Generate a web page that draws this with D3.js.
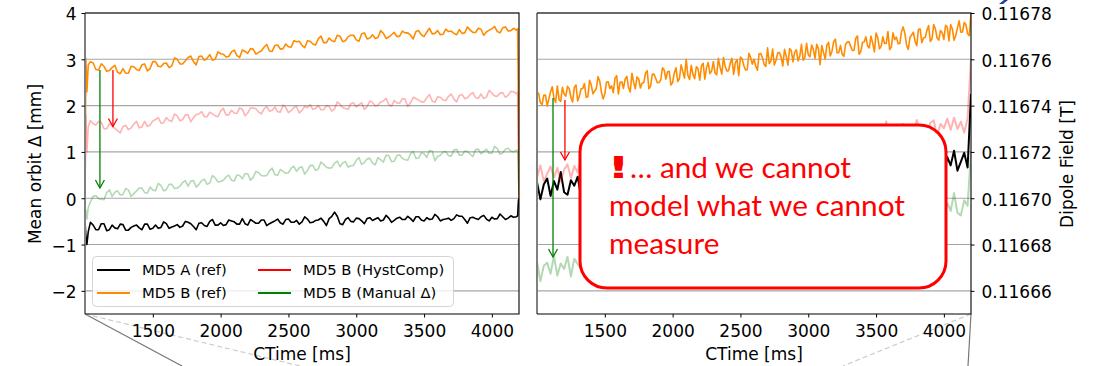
<!DOCTYPE html>
<html>
<head>
<meta charset="utf-8">
<script src="https://cdn.jsdelivr.net/npm/d3@7"></script>
<style>
body { margin: 0; background: #fff; }
svg { display: block; font-family: "DejaVu Sans", sans-serif; }
</style>
</head>
<body>
<svg id="chart" width="1094" height="366"></svg>
<script>
////////// DATA //////////

// left panel: mean orbit delta [mm]
// main samples every 40 ms, plus the in-between samples (1060, 1100, ...)
var leftTimes = [1000, 1006, 1014, 1024].concat(d3.range(1040, 4200, 40), [4180, 4190, 4196, 4200]);
var leftTimesHalf = d3.range(1060, 4160, 40);

var orbitA_ref = [-0.5, -0.8, -1.0, -0.72,
  -0.52,-0.68,-0.55,-0.70,-0.58,-0.66,-0.57,-0.69,-0.60,-0.64,
  -0.56,-0.67,-0.58,-0.63,-0.55,-0.62,-0.57,-0.60,-0.52,-0.61,
  -0.54,-0.59,-0.50,-0.58,-0.53,-0.57,-0.49,-0.56,-0.44,-0.58,
  -0.50,-0.54,-0.47,-0.55,-0.49,-0.53,-0.46,-0.52,-0.48,-0.51,
  -0.45,-0.52,-0.47,-0.50,-0.44,-0.30,-0.55,-0.46,-0.50,-0.43,
  -0.49,-0.44,-0.48,-0.42,-0.47,-0.43,-0.48,-0.41,-0.46,-0.44,
  -0.40,-0.47,-0.42,-0.45,-0.40,-0.46,-0.43,-0.44,-0.39,-0.46,
  -0.42,-0.44,-0.40,-0.45,-0.41,-0.44,-0.40,-0.43,-0.41,
  -0.40, -0.38, -0.05, 0.0];
var orbitA_refHalf = [
  -0.58,-0.68,-0.55,-0.68,-0.64,-0.56,-0.69,-0.63,-0.58,-0.68,
  -0.56,-0.65,-0.65,-0.51,-0.65,-0.60,-0.63,-0.50,-0.55,-0.68,
  -0.53,-0.61,-0.46,-0.58,-0.59,-0.47,-0.51,-0.56,-0.55,-0.46,
  -0.54,-0.47,-0.59,-0.52,-0.45,-0.56,-0.45,-0.52,-0.56,-0.40,
  -0.53,-0.48,-0.43,-0.59,-0.39,-0.39,-0.57,-0.42,-0.51,-0.44,
  -0.55,-0.42,-0.45,-0.49,-0.37,-0.52,-0.43,-0.46,-0.39,-0.50,
  -0.40,-0.49,-0.46,-0.35,-0.49,-0.45,-0.48,-0.36,-0.39,-0.54,
  -0.41,-0.46,-0.37,-0.49,-0.45,-0.34,-0.46,-0.38];

var orbitB_ref = [-0.3, 3.02, 2.3, 2.88,
  2.95,2.78,2.90,2.74,2.82,2.72,2.80,2.70,2.84,2.76,
  2.90,2.80,2.95,2.84,2.92,2.86,3.00,2.90,3.04,2.95,
  3.06,2.98,3.10,3.00,3.12,3.05,3.16,3.08,3.20,3.13,
  3.22,3.15,3.26,3.18,3.30,3.22,3.33,3.26,3.38,3.30,
  3.40,3.33,3.44,3.36,3.46,3.38,3.50,3.40,3.52,3.42,
  3.55,3.44,3.53,3.47,3.56,3.48,3.58,3.50,3.57,3.52,
  3.60,3.53,3.59,3.55,3.62,3.54,3.60,3.56,3.64,3.57,
  3.63,3.58,3.65,3.59,3.66,3.60,3.68,3.61,3.67,
  3.63, 3.66, 2.0, 0.0];
var orbitB_refHalf = [
  2.92,2.77,2.85,2.76,2.87,2.69,2.70,2.85,2.78,2.88,
  2.75,2.95,2.85,2.91,2.82,3.03,2.90,2.97,3.07,2.88,
  3.07,3.02,2.98,3.16,3.11,3.06,3.20,3.04,3.17,3.23,
  3.11,3.18,3.32,3.17,3.31,3.23,3.27,3.40,3.39,3.25,
  3.39,3.31,3.50,3.36,3.40,3.52,3.38,3.49,3.52,3.39,
  3.57,3.46,3.45,3.62,3.45,3.53,3.49,3.61,3.57,3.44,
  3.62,3.49,3.67,3.56,3.53,3.65,3.61,3.53,3.56,3.70,
  3.58,3.67,3.52,3.63,3.71,3.57,3.70,3.62];

var orbitB_hyst = [0.0, 1.8, 1.0, 1.55,
  1.68,1.58,1.64,1.50,1.56,1.46,1.55,1.48,1.60,1.52,
  1.66,1.58,1.70,1.62,1.74,1.66,1.78,1.70,1.80,1.74,
  1.82,1.76,1.86,1.78,1.88,1.80,1.90,1.83,1.92,1.84,
  1.95,1.86,1.93,1.88,1.97,1.86,1.96,1.89,1.98,1.90,
  1.96,1.92,2.00,1.91,1.98,1.93,2.03,1.94,2.04,1.97,
  2.06,1.98,2.07,2.01,2.10,2.02,2.11,2.05,2.14,2.06,
  2.15,2.08,2.17,2.10,2.19,2.12,2.20,2.14,2.22,2.15,
  2.24,2.17,2.25,2.19,2.27,2.20,2.28,2.22,2.30,
  2.26, 2.29, 1.0, 0.05];
var orbitB_hystHalf = [
  1.61,1.66,1.50,1.61,1.51,1.41,1.57,1.52,1.66,1.54,
  1.55,1.67,1.74,1.63,1.68,1.82,1.67,1.80,1.65,1.81,
  1.87,1.76,1.82,1.76,1.94,1.80,1.84,1.95,1.78,1.95,
  1.93,1.82,1.98,1.90,1.87,2.01,1.85,1.96,1.84,1.98,
  2.02,1.94,1.91,2.00,1.88,2.08,1.96,1.92,2.06,2.02,
  1.92,2.10,1.99,2.08,2.16,1.99,2.06,2.15,1.98,2.18,
  2.12,2.08,2.24,2.07,2.18,2.11,2.25,2.08,2.24,2.17,
  2.28,2.16,2.15,2.33,2.21,2.27,2.18,2.31];

var orbitB_manual = [-0.4, -0.25, -0.45, -0.2,
  -0.08,0.06,-0.02,0.12,0.04,0.16,0.08,0.18,0.10,0.22,
  0.12,0.24,0.16,0.27,0.19,0.30,0.22,0.34,0.26,0.38,
  0.30,0.41,0.33,0.44,0.36,0.46,0.39,0.50,0.42,0.53,
  0.45,0.55,0.48,0.59,0.51,0.62,0.54,0.65,0.58,0.68,
  0.60,0.71,0.63,0.73,0.65,0.76,0.68,0.79,0.70,0.82,
  0.73,0.85,0.76,0.88,0.78,0.92,0.80,0.94,0.83,0.96,
  0.86,0.98,0.88,1.02,0.90,1.00,0.92,1.04,0.93,1.02,
  0.95,1.05,0.96,1.06,0.97,1.07,0.98,1.08,1.00,
  1.04, 1.02, 0.4, 0.2];
var orbitB_manualHalf = [
  0.04,-0.01,-0.03,0.18,0.13,0.07,0.21,0.04,0.16,0.22,
  0.11,0.18,0.32,0.16,0.30,0.21,0.26,0.38,0.37,0.24,
  0.38,0.30,0.49,0.35,0.39,0.50,0.37,0.49,0.53,0.39,
  0.58,0.49,0.49,0.65,0.49,0.58,0.55,0.69,0.66,0.52,
  0.71,0.60,0.78,0.67,0.66,0.80,0.76,0.67,0.71,0.88,
  0.77,0.86,0.72,0.83,0.93,0.79,0.92,0.86,0.82,1.01,
  0.87,0.96,1.03,0.81,0.93,1.01,0.91,1.06,0.93,1.01,
  0.90,1.06,1.01,0.97,1.12,0.95,1.06,1.02];

// right panel: dipole field, stored in µT above 0.11670 T
var FIELD_BASE = 0.11670;
var rightTimes = d3.range(1000, 4200, 25).concat([4200]);
var rightTimesHalf = d3.range(1012.5, 4200, 25);

var fieldB_ref = [
  46,41.3,44.5,39.8,46,43.3,48.5,41.8,45,48.3,
  43.5,47.8,42,47.3,49.5,43.8,49,46.3,52.5,45.8,
  45,50.3,48.5,51.8,45,50.3,51.5,47.8,54,47.3,
  51.5,49.8,54,47.3,53.5,51.8,50,56.3,51.5,54.8,
  50,56.3,51.5,54.8,60,51.3,53.5,56.8,51,58.3,
  56.5,53.8,59,53.3,56.5,60.8,55,58.3,53.5,59.8,
  61,57.3,55.5,60.8,60,55.3,62.5,57.8,65,59.3,
  57.5,62.8,61,64.3,57.5,63.8,63,59.3,66.5,60.8,
  62,66.2,60.4,64.6,65.9,60.1,67.3,63.5,68.7,62.9,
  62.2,66.4,67.6,63.8,69,62.2,67.4,69.7,64.9,67.1,
  71.3,64.5,69.7,66.9,64.2,71.4,69.6,66.8,74,66.2,
  69.4,71.7,65.9,73.1,69.3,72.5,67.7,75,69.2,72.4,
  68.6,73.8,75,68.2,73.5,71.7,75.9,71.1, 80];
var fieldB_refHalf = [
  45.1,40.4,44.6,42.9,48.1,41.4,42.6,47.9,44.1,47.4,
  41.6,48.9,44.1,47.4,43.6,50.9,45.1,47.4,50.6,42.9,
  50.1,47.4,45.6,52.9,50.1,47.4,52.6,45.9,50.1,52.4,
  47.6,49.9,55.1,48.4,53.6,49.9,51.1,55.4,54.6,48.9,
  54.1,50.4,57.6,51.9,53.1,57.4,51.6,55.9,57.1,51.4,
  58.6,54.9,54.1,60.4,53.6,56.9,55.1,60.4,58.6,52.9,
  60.1,55.4,62.6,57.9,57.1,62.4,60.6,56.9,58.1,64.4,
  59.6,62.9,57.1,61.4,64.6,58.9,64.1,61.4,59.6,66.9,
  61.1,64.3,66.5,57.7,63.0,66.2,61.4,67.6,62.8,66.0,
  61.3,67.5,65.7,63.9,70.1,63.3,67.5,65.8,70.0,63.2,
  69.4,65.6,66.8,72.0,65.3,68.5,66.7,71.9,71.1,64.3,
  70.5,67.8,73.0,67.2,69.4,74.6,68.8,73.1,68.3,71.5,
  74.7,67.9,73.1,70.3,76.6,71.8,75.0,70.2];

var fieldB_hyst = [
  9.0,14.2,7.4,10.5,13.7,8.9,13.1,7.2,12.4,14.6,
  8.8,13.9,11.1,17.3,10.5,9.7,14.8,13,16.2,9.4,
  14.5,15.7,11.9,18.1,11.2,15.4,13.6,17.8,11,17.1,
  15.3,13.5,19.7,14.8,18,13.2,19.4,14.5,17.7,22.9,
  14.1,16.3,19.4,13.6,20.8,19,16.1,21.3,15.5,18.7,
  22.9,17,20.2,15.4,21.6,22.7,18.9,17.1,22.3,21.4,
  16.6,23.8,19,26.2,20.3,18.5,23.7,21.9,25,18.2,
  24.4,23.6,19.7,26.9,21.1,22.3,26.5,20.6,24.8,26,
  20.2,27.3,23.5,28.7,22.9,22,26.2,27.4,23.6,28.8,
  21.9,27.1,29.3,24.5,26.6,30.8,24,29.2,26.3,23.5,
  30.7,28.9,26.1,33.2,25.4,28.6,30.8,24.9,32.1,28.3,
  31.5,26.6,33.8,28,31.2,27.4,32.5,33.7,26.9,32.1,
  30.2,34.4,29.6,34.8,29.9,33.1,28.3,34.5, 60];

var fieldA_ref = [
  6.9,-0.5,5.9,8.5,1.0,7.4,3.7,11.3,2.6,1.5,
  7.8,5.4,9.3,0.6,7.0,8.3,3.3,10.9,2.3,7.4,
  5.0,10.1,1.4,9.0,6.6,4.2,11.7,5.6,9.4,3.3,
  10.9,4.7,8.6,14.9,3.8,6.4,10.1,2.7,11.6,9.2,
  5.5,11.9,4.5,8.3,13.4,6.0,9.8,3.6,11.2,12.6,
  7.7,5.3,11.6,10.5,4.3,13.2,6.9,15.8,8.4,6.0,
  12.3,9.9,13.8,5.1,12.7,11.6,6.6,15.4,8.0,9.4,
  14.5,7.1,12.2,13.5,6.1,15.0,10.0,16.3,8.9,7.8,
  12.9,14.2,9.3,15.7,7.0,13.4,15.9,9.7,12.3,17.4,
  8.8,15.1,11.5,7.8,16.7,14.3,10.5,19.4,9.5,13.3,
  15.9,8.5,17.4,12.5,16.3,10.2,18.9,11.5,15.4,10.5,
  16.8,18.2,9.5,15.9,13.5,18.6,12.3,18.7,12.5,16.4,
  10.2,17.8,14.2,20.5,11.9,15.7,19.6,13.3, 45];

var fieldB_manual = [
  -27.3,-35.8,-29.3,-27.8,-32.6,-24.9,-33.4,-28.2,-30.5,-25.3,
  -33.8,-26.1,-28.4,-30.7,-22.9,-29.0,-25.0,-31.0,-23.3,-29.3,
  -25.4,-18.9,-29.9,-27.2,-23.2,-30.5,-21.5,-23.8,-27.4,-20.9,
  -28.2,-24.2,-19.0,-26.3,-22.3,-28.3,-20.6,-19.1,-23.9,-26.2,
  -19.7,-20.8,-26.8,-17.8,-23.9,-14.9,-22.2,-24.4,-18.0,-20.3,
  -16.3,-24.8,-17.1,-18.1,-22.9,-14.0,-21.2,-19.8,-14.5,-21.8,
  -16.6,-15.1,-22.4,-13.4,-18.2,-11.8,-19.0,-20.1,-14.8,-13.4,
  -18.2,-11.7,-20.2,-13.7,-11.0,-17.1,-14.4,-9.1,-17.6,-11.2,
  -14.7,-18.3,-9.3,-11.6,-15.1,-6.1,-15.9,-11.9,-9.2,-16.5,
  -7.5,-12.3,-8.4,-14.4,-5.4,-12.7,-8.7,-13.5,-7.0,-5.6,
  -14.1,-7.6,-9.9,-4.7,-10.7,-4.2,-10.3,-6.3,-12.3,-4.6,
  -8.1,-1.7,-10.2,-6.3,-2.3,-8.3,-3.1,-10.4,-3.9,-1.2,
  -8.5,-2.0,-5.5,2.2,-6.3,-7.4,-0.9,-3.2, 20];

// axes
var timeDomain = [1000, 4200];
var timeTicks = [1500, 2000, 2500, 3000, 3500, 4000];
var orbitDomain = [-2.5, 4];
var orbitTicks = [-2, -1, 0, 1, 2, 3, 4];
var fieldDomain = [-50, 80];            // µT above FIELD_BASE
var fieldTicks = [0.11666, 0.11668, 0.11670, 0.11672, 0.11674, 0.11676, 0.11678];

// legend
var legendLabels = ["MD5 A (ref)", "MD5 B (ref)", "MD5 B (HystComp)", "MD5 B (Manual \u0394)"];
var legendColors = ["#000000", "#ff8c00", "#ff0000", "#008000"];

// arrows: [time, from, to]
var leftArrowGreen = [1110, 2.77, 0.22], leftArrowRed = [1206, 2.77, 1.55];
var rightArrowGreen = [1118, 43.3, -25.4], rightArrowRed = [1206, 42.4, 16.5];

var noteLines = ["\u2026 and we cannot", "model what we cannot", "measure"];

////////// LAYOUT //////////
var svg = d3.select("#chart");
var top_ = 13, bottom_ = 314;
var leftRange = [85, 519], rightRange = [537, 971];

var xL = d3.scaleLinear().domain(timeDomain).range(leftRange);
var xR = d3.scaleLinear().domain(timeDomain).range(rightRange);
var yL = d3.scaleLinear().domain(orbitDomain).range([bottom_, top_]);
var yR = d3.scaleLinear().domain(fieldDomain).range([bottom_, top_]);
var yRT = d3.scaleLinear()
    .domain([FIELD_BASE + fieldDomain[0] * 1e-6, FIELD_BASE + fieldDomain[1] * 1e-6])
    .range([bottom_, top_]);

// pair times with values, merging the in-between samples if given
function pts(t, v, th, vh) {
    var p = t.map(function(d, i) { return [d, v[i]]; });
    if (th) p = p.concat(th.map(function(d, i) { return [d, vh[i]]; }));
    return p.sort(function(a, b) { return a[0] - b[0]; });
}

var defs = svg.append("defs");
[["clipL", leftRange], ["clipR", rightRange]].forEach(function(c) {
    defs.append("clipPath").attr("id", c[0]).append("rect")
        .attr("x", c[1][0]).attr("y", top_)
        .attr("width", c[1][1] - c[1][0]).attr("height", bottom_ - top_);
});

// inset connector lines below the panels
var conn = svg.append("g").attr("fill", "none");
conn.append("line").attr("x1", 85).attr("y1", bottom_).attr("x2", 182).attr("y2", 366)
    .attr("stroke", "#777").attr("stroke-width", 1.2);
conn.append("line").attr("x1", 85).attr("y1", bottom_).attr("x2", 300).attr("y2", 366)
    .attr("stroke", "#ccc").attr("stroke-width", 1.2).attr("stroke-dasharray", "5,3");
conn.append("line").attr("x1", 971).attr("y1", bottom_).attr("x2", 968).attr("y2", 366)
    .attr("stroke", "#777").attr("stroke-width", 1.2);
conn.append("line").attr("x1", 971).attr("y1", bottom_).attr("x2", 843).attr("y2", 366)
    .attr("stroke", "#ccc").attr("stroke-width", 1.2).attr("stroke-dasharray", "5,3");

function drawPanel(x, y, gridTicks, clip, series) {
    var g = svg.append("g");
    g.append("g").selectAll("line").data(gridTicks).enter().append("line")
        .attr("x1", x.range()[0]).attr("x2", x.range()[1])
        .attr("y1", function(d) { return y(d); }).attr("y2", function(d) { return y(d); })
        .attr("stroke", "#a6a6a6").attr("stroke-width", 1.1);

    var line = d3.line()
        .x(function(d) { return x(d[0]); })
        .y(function(d) { return y(d[1]); });
    var lines = g.append("g").attr("clip-path", "url(#" + clip + ")");
    series.forEach(function(s) {
        lines.append("path").datum(s.p)
            .attr("d", line)
            .attr("fill", "none")
            .attr("stroke", s.color)
            .attr("stroke-opacity", s.alpha)
            .attr("stroke-width", s.w)
            .attr("stroke-linejoin", "round");
    });
    return g;
}

function arrow(g, x, y, a, color) {
    var px = x(a[0]), y0 = y(a[1]), y1 = y(a[2]);
    g.append("line").attr("x1", px).attr("x2", px).attr("y1", y0).attr("y2", y1)
        .attr("stroke", color).attr("stroke-width", 1.3);
    g.append("path")
        .attr("d", "M" + (px - 4.5) + "," + (y1 - 8) + "L" + px + "," + y1 + "L" + (px + 4.5) + "," + (y1 - 8))
        .attr("fill", "none").attr("stroke", color).attr("stroke-width", 1.3);
}

var gL = drawPanel(xL, yL, orbitTicks, "clipL", [
    { p: pts(leftTimes, orbitA_ref, leftTimesHalf, orbitA_refHalf), color: legendColors[0], alpha: 1, w: 1.6 },
    { p: pts(leftTimes, orbitB_ref, leftTimesHalf, orbitB_refHalf), color: legendColors[1], alpha: 1, w: 1.6 },
    { p: pts(leftTimes, orbitB_hyst, leftTimesHalf, orbitB_hystHalf), color: legendColors[2], alpha: 0.3, w: 1.6 },
    { p: pts(leftTimes, orbitB_manual, leftTimesHalf, orbitB_manualHalf), color: legendColors[3], alpha: 0.3, w: 1.6 }
]);
arrow(gL, xL, yL, leftArrowGreen, "green");
arrow(gL, xL, yL, leftArrowRed, "red");

var gR = drawPanel(xR, yR, fieldTicks.map(function(d) { return (d - FIELD_BASE) * 1e6; }), "clipR", [
    { p: pts(rightTimes, fieldA_ref), color: legendColors[0], alpha: 1, w: 2.0 },
    { p: pts(rightTimes, fieldB_ref, rightTimesHalf, fieldB_refHalf), color: legendColors[1], alpha: 1, w: 1.6 },
    { p: pts(rightTimes, fieldB_hyst), color: legendColors[2], alpha: 0.3, w: 2.0 },
    { p: pts(rightTimes, fieldB_manual), color: legendColors[3], alpha: 0.3, w: 2.0 }
]);
arrow(gR, xR, yR, rightArrowGreen, "green");
arrow(gR, xR, yR, rightArrowRed, "red");

// spines
function spines(r) {
    var s = svg.append("g").attr("fill", "none");
    s.append("line").attr("x1", r[0]).attr("x2", r[0]).attr("y1", top_).attr("y2", bottom_)
        .attr("stroke", "#808080").attr("stroke-width", 2);
    s.append("path")
        .attr("d", "M" + r[0] + "," + top_ + "H" + r[1] + "V" + bottom_ + "H" + r[0])
        .attr("stroke", "#000").attr("stroke-width", 1.1);
}
spines(leftRange);
spines(rightRange);

// axes
function styleAxis(g) {
    g.select(".domain").remove();
    g.selectAll(".tick line").attr("stroke", "#000").attr("stroke-width", 1);
    g.selectAll(".tick text").attr("font-size", 17).attr("fill", "#000")
        .attr("font-family", "DejaVu Sans, sans-serif");
}

[xL, xR].forEach(function(x) {
    svg.append("g").attr("transform", "translate(0," + bottom_ + ")")
        .call(d3.axisBottom(x).tickValues(timeTicks).tickSize(3.5).tickPadding(7.5)
            .tickFormat(d3.format("d")))
        .call(styleAxis);
});

svg.append("g").attr("transform", "translate(" + leftRange[0] + ",0)")
    .call(d3.axisLeft(yL).tickValues(orbitTicks).tickSize(3.5).tickPadding(5)
        .tickFormat(function(d) { return d < 0 ? "\u2212" + Math.abs(d) : String(d); }))
    .call(styleAxis)
    .selectAll(".tick text").attr("dy", "0.4em");

svg.append("g").attr("transform", "translate(" + rightRange[1] + ",0)")
    .call(d3.axisRight(yRT).tickValues(fieldTicks).tickSize(3.5).tickPadding(7)
        .tickFormat(function(d) { return d.toFixed(5); }))
    .call(styleAxis)
    .selectAll(".tick text").attr("dy", "0.4em");

// axis labels
[leftRange, rightRange].forEach(function(r) {
    svg.append("text").attr("x", (r[0] + r[1]) / 2).attr("y", 360)
        .attr("text-anchor", "middle").attr("font-size", 17).text("CTime [ms]");
});
svg.append("text").attr("transform", "translate(41,164) rotate(-90)")
    .attr("text-anchor", "middle").attr("font-size", 17).text("Mean orbit \u0394 [mm]");
svg.append("text").attr("transform", "translate(1073,164) rotate(-90)")
    .attr("text-anchor", "middle").attr("font-size", 17).text("Dipole Field [T]");

// legend
var leg = svg.append("g");
leg.append("rect").attr("x", 92.5).attr("y", 256.5).attr("width", 361).attr("height", 50)
    .attr("rx", 4).attr("fill", "#fff").attr("fill-opacity", 0.8)
    .attr("stroke", "#d4d4d4").attr("stroke-width", 1);
legendLabels.forEach(function(lab, i) {
    var col = Math.floor(i / 2), row = i % 2;
    var lx = col === 0 ? 97 : 258, ly = row === 0 ? 270 : 293;
    leg.append("line").attr("x1", lx).attr("x2", lx + 33).attr("y1", ly).attr("y2", ly)
        .attr("stroke", legendColors[i]).attr("stroke-width", 2);
    leg.append("text").attr("x", lx + 45).attr("y", ly).attr("dy", "0.37em")
        .attr("font-size", 14.8).text(lab);
});

// callout box
var note = svg.append("g");
note.append("rect").attr("x", 580).attr("y", 125).attr("width", 366).attr("height", 163)
    .attr("rx", 27).attr("fill", "#fff").attr("stroke", "#ff0000").attr("stroke-width", 3);
var nf = "Lato, 'Open Sans', sans-serif";
var t2 = note.append("text").attr("x", 609).attr("y", 216).attr("font-family", nf)
    .attr("font-size", 30).attr("fill", "#ff0000").text(noteLines[1]);
var fs = 30 * 296 / t2.node().getComputedTextLength();
t2.attr("font-size", fs);
note.append("text").attr("transform", "translate(607,178) scale(1.7,1)")
    .attr("font-family", "DejaVu Sans, sans-serif")
    .attr("font-size", fs).attr("font-weight", "bold").attr("fill", "#ff0000").text("!");
note.append("text").attr("x", 630).attr("y", 178).attr("font-family", nf)
    .attr("font-size", fs).attr("fill", "#ff0000").text(noteLines[0]);
note.append("text").attr("x", 609).attr("y", 254).attr("font-family", nf)
    .attr("font-size", fs).attr("fill", "#ff0000").text(noteLines[2]);

// cut-off logo mark at the top right
svg.append("path").attr("d", "M999,4L1003,4L1008,0L1004,0Z").attr("fill", "#1f3c9c");
</script>
</body>
</html>
